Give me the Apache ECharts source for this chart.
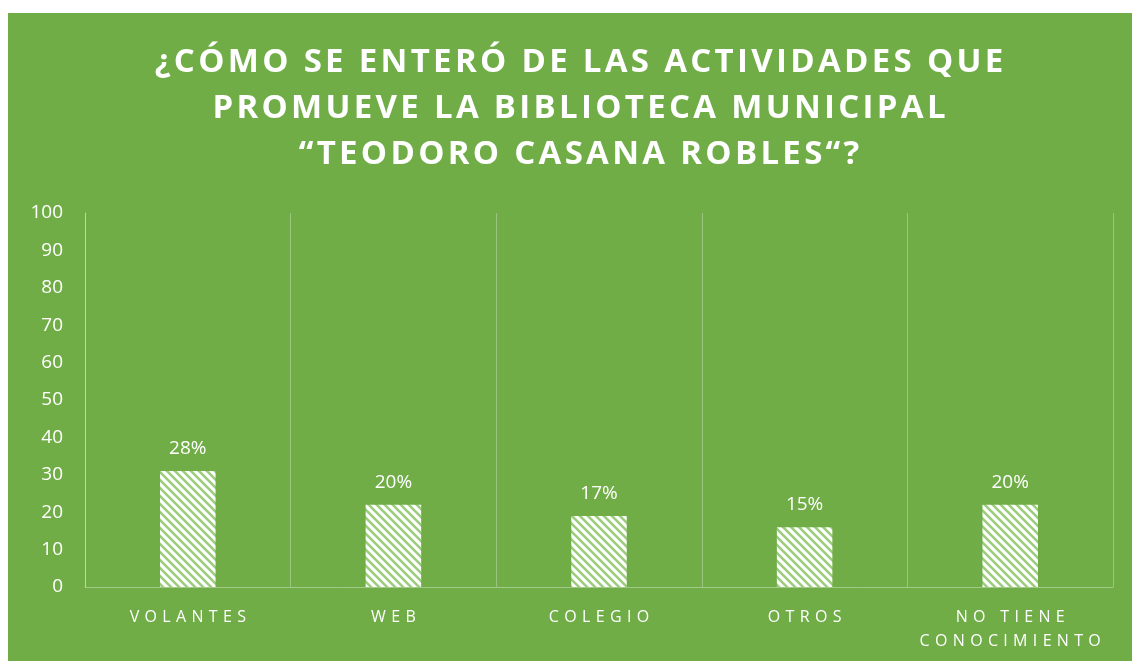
<!DOCTYPE html>
<html>
<head>
<meta charset="utf-8">
<script src="https://cdn.jsdelivr.net/npm/echarts@6/dist/echarts.min.js"></script>
<style>
html, body { margin: 0; padding: 0; background: #fff; }
#chart { width: 1132px; height: 663px; }
</style>
</head>
<body>
<div id="chart"></div>
<script>
// data
const categories = ["VOLANTES", "WEB", "COLEGIO", "OTROS", "NO TIENE\nCONOCIMIENTO"];
const barValues = [31, 22, 19, 16, 22];
const barLabels = ["28%", "20%", "17%", "15%", "20%"];
const yTicks = [0, 10, 20, 30, 40, 50, 60, 70, 80, 90, 100];
const titleLines = ["¿CÓMO SE ENTERÓ DE LAS ACTIVIDADES QUE", "PROMUEVE LA BIBLIOTECA MUNICIPAL", "“TEODORO CASANA ROBLES“?"];

const GREEN = "#70AD47";

// hatch pattern for the bars
function makeHatch()
{
    const c = document.createElement("canvas");
    c.width = 8;
    c.height = 8;
    const ctx = c.getContext("2d");
    ctx.fillStyle = "#ffffff";
    ctx.fillRect(0, 0, 8, 8);
    ctx.strokeStyle = "#9ccd7e";
    ctx.lineWidth = 2.6;
    ctx.beginPath();
    ctx.moveTo(-2, -2); ctx.lineTo(10, 10);
    ctx.moveTo(-2, 6); ctx.lineTo(2, 10);
    ctx.moveTo(6, -2); ctx.lineTo(10, 2);
    ctx.stroke();
    return c;
}

// letter spacing by narrow spaces between characters
function spaced(s, gap)
{
    return s.split("\n").map(function (line) { return line.split("").join(gap); }).join("\n");
}

const chart = echarts.init(document.getElementById("chart"), null, { renderer: "canvas" });

chart.setOption({
    backgroundColor: "#ffffff",
    animation: false,
    graphic: [{
        type: "rect",
        z: -10,
        silent: true,
        shape: { x: 8, y: 13, width: 1124, height: 648 },
        style: { fill: GREEN }
    }],
    title: {
        text: spaced(titleLines.join("\n"), "\u200A"),
        left: 574,
        textAlign: "center",
        top: 35,
        textStyle: {
            color: "#ffffff",
            fontFamily: "Open Sans",
            fontWeight: "bold",
            fontSize: 33,
            lineHeight: 46
        }
    },
    grid: { left: 85, right: 19, top: 213, bottom: 76 },
    xAxis: {
        type: "category",
        data: categories,
        axisLine: { lineStyle: { color: "rgba(255,255,255,0.35)", width: 1 } },
        axisTick: { show: false },
        splitLine: { show: true, lineStyle: { color: "rgba(255,255,255,0.3)", width: 1 } },
        axisLabel: {
            color: "#ffffff",
            fontFamily: "Open Sans",
            fontSize: 16,
            lineHeight: 24,
            margin: 18,
            interval: 0,
            formatter: function (v) { return spaced(v, "\u2004"); }
        }
    },
    yAxis: {
        type: "value",
        min: yTicks[0],
        max: yTicks[yTicks.length - 1],
        interval: 10,
        axisLine: { show: true, lineStyle: { color: "rgba(255,255,255,0.35)", width: 1 } },
        axisTick: { show: false },
        splitLine: { show: false },
        axisLabel: {
            color: "#ffffff",
            fontFamily: "Open Sans",
            fontSize: 19,
            margin: 22
        }
    },
    series: [{
        type: "bar",
        data: barValues,
        barWidth: "27%",
        itemStyle: { color: { image: makeHatch(), repeat: "repeat" } },
        label: {
            show: true,
            position: "top",
            distance: 13,
            color: "#ffffff",
            fontFamily: "Open Sans",
            fontSize: 19,
            formatter: function (p) { return barLabels[p.dataIndex]; }
        }
    }]
});
</script>
</body>
</html>
